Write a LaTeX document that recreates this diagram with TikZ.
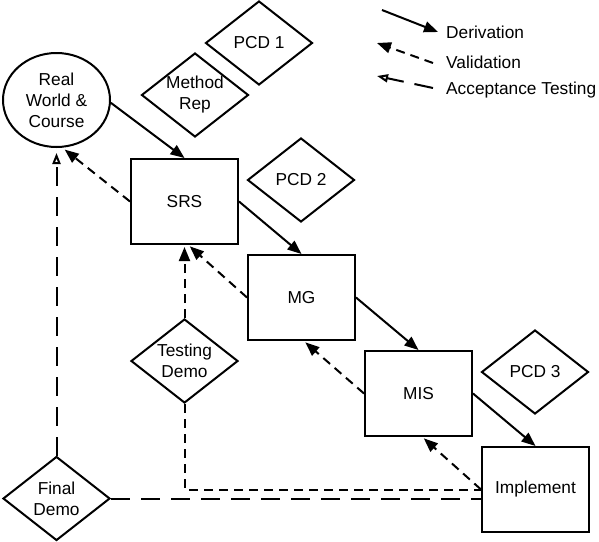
\documentclass[tikz,border=0pt]{standalone}
\usepackage{fontspec}
\setmainfont{Liberation Sans}
\usetikzlibrary{shapes.geometric,arrows.meta}
\begin{document}
\begin{tikzpicture}[x=1pt,y=-1pt,
  txt/.style={font=\fontsize{17.3}{21}\selectfont, align=center, inner sep=0pt},
  box/.style={txt, draw, line width=2pt, rectangle, minimum width=107pt, minimum height=85pt},
  dia/.style={txt, draw, line width=2pt, diamond, shape aspect=1.27, minimum width=107pt, minimum height=84pt},
  ell/.style={txt, draw, line width=2pt, ellipse, minimum width=107pt, minimum height=94pt},
  legtext/.style={txt, anchor=base west},
  deriv/.style={line width=2pt, -{Triangle[length=14pt,width=11pt]}},
  valid/.style={line width=2pt, dash pattern=on 9pt off 6pt, -{Triangle[length=14pt,width=11pt]}},
  accept/.style={line width=2pt, dash pattern=on 19pt off 11pt, -{Triangle[open,length=11pt,width=8pt,fill=white]}},
  plainval/.style={line width=2pt, dash pattern=on 9pt off 6pt},
  plainacc/.style={line width=2pt, dash pattern=on 19pt off 11pt}
]
\fill[white] (0,0) rectangle (599,541);
\useasboundingbox (0,0) rectangle (599,541);

% nodes
\node[ell] (rw) at (56.5,100) {Real\\World \&\\Course};
\node[dia] (pcd1) at (259,43) {PCD 1};
\node[dia] (mr) at (195,95) {Method\\Rep};
\node[dia] (pcd2) at (301,180) {PCD 2};
\node[box] (srs) at (184.5,201.5) {SRS};
\node[box] (mg) at (301.5,297.5) {MG};
\node[box] (mis) at (418.5,393.5) {MIS};
\node[box] (impl) at (535.5,489.5) {Implement};
\node[dia] (pcd3) at (535,372) {PCD 3};
\node[dia] (td) at (184.5,361) {Testing\\Demo};
\node[dia] (fd) at (56.5,498.5) {Final\\Demo};

% derivation
\draw[deriv] (rw.-3) -- (srs.north);
\draw[deriv] (srs.east) -- (mg.north);
\draw[deriv] (mg.east) -- (mis.north);
\draw[deriv] (mis.east) -- (impl.north);

% validation
\draw[valid, shorten >=3pt] (srs.west) -- (rw.-83);
\draw[valid, shorten >=2pt] (mg.west) -- (srs.-85);
\draw[valid, shorten >=2pt] (td.north) -- (srs.south);
\draw[valid, shorten >=2pt] (mis.west) -- (mg.-87);
\draw[valid, shorten >=2pt] (impl.west) -- (mis.-85);
\draw[plainval] (td.south) |- (impl.west);

% acceptance testing
\draw[accept, shorten >=5pt] (fd.north) -- (rw.south);
\draw[plainacc] (fd.east) -- (fd.east -| impl.west);

% legend
\coordinate (d1) at (382,10);
\coordinate (d2) at (438,32);
\coordinate (v1) at (433,63);
\coordinate (v2) at (377,43);
\coordinate (a1) at (433,88);
\coordinate (a2) at (377,76);
\draw[deriv] (d1) -- (d2);
\draw[valid] (v1) -- (v2);
\draw[accept] (a1) -- (a2);
\node[legtext] (ld) at (446,38) {Derivation};
\node[legtext] (lv) at (446,68.5) {Validation};
\node[legtext] (la) at (446,94) {Acceptance Testing};
\end{tikzpicture}
\end{document}
